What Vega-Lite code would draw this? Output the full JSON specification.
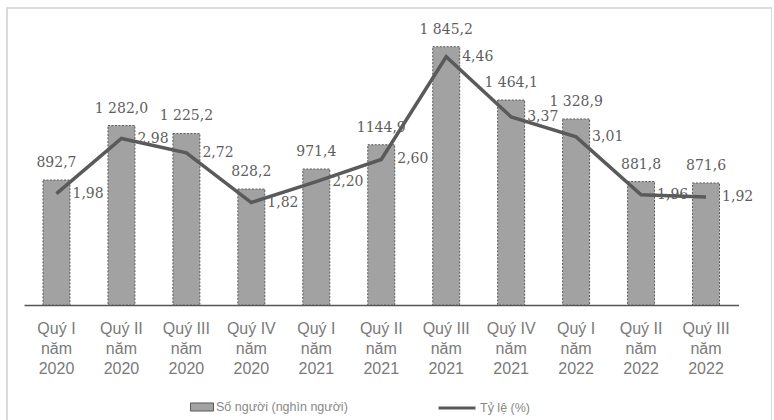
{
  "$schema": "https://vega.github.io/schema/vega-lite/v6.json",
  "width": 765,
  "height": 415,
  "autosize": {"type": "none"},
  "padding": {"left": 7, "top": 8, "right": 0, "bottom": 0},
  "background": "white",
  "config": {
    "view": {"stroke": "#cfcfcf", "strokeWidth": 1.5},
    "text": {"font": "DejaVu Serif", "fontSize": 14, "fill": "#5e5e5e"}
  },
  "data": {
    "values": [
      {"q": "Quý I|năm|2020", "n": 892.7, "nl": "892,7", "r": 1.98, "rl": "1,98"},
      {"q": "Quý II|năm|2020", "n": 1282.0, "nl": "1 282,0", "r": 2.98, "rl": "2,98"},
      {"q": "Quý III|năm|2020", "n": 1225.2, "nl": "1 225,2", "r": 2.72, "rl": "2,72"},
      {"q": "Quý IV|năm|2020", "n": 828.2, "nl": "828,2", "r": 1.82, "rl": "1,82"},
      {"q": "Quý I|năm|2021", "n": 971.4, "nl": "971,4", "r": 2.20, "rl": "2,20"},
      {"q": "Quý II|năm|2021", "n": 1144.9, "nl": "1144,9", "r": 2.60, "rl": "2,60"},
      {"q": "Quý III|năm|2021", "n": 1845.2, "nl": "1 845,2", "r": 4.46, "rl": "4,46"},
      {"q": "Quý IV|năm|2021", "n": 1464.1, "nl": "1 464,1", "r": 3.37, "rl": "3,37"},
      {"q": "Quý I|năm|2022", "n": 1328.9, "nl": "1 328,9", "r": 3.01, "rl": "3,01"},
      {"q": "Quý II|năm|2022", "n": 881.8, "nl": "881,8", "r": 1.96, "rl": "1,96"},
      {"q": "Quý III|năm|2022", "n": 871.6, "nl": "871,6", "r": 1.92, "rl": "1,92"}
    ]
  },
  "encoding": {
    "x": {
      "field": "q",
      "type": "nominal",
      "sort": null,
      "scale": {"range": [17, 731.5], "paddingInner": 0.585, "paddingOuter": 0.2925},
      "axis": {
        "title": null,
        "orient": "bottom",
        "offset": -118,
        "labelAngle": 0,
        "ticks": false,
        "tickSize": 0,
        "labelPadding": 15,
        "labelBaseline": "top",
        "labelFont": "Liberation Sans",
        "labelFontSize": 16,
        "labelColor": "#7a7a7a",
        "labelLineHeight": 20,
        "labelExpr": "split(datum.value, '|')",
        "domainColor": "#555555",
        "domainWidth": 1.3
      }
    }
  },
  "layer": [
    {
      "layer": [
        {
          "mark": {"type": "bar", "stroke": "#5a5a5a", "strokeWidth": 1, "strokeDash": [2, 1.5]},
          "encoding": {
            "y": {"field": "n", "type": "quantitative", "scale": {"domain": [0, 2000], "range": [297, 17]}, "axis": null},
            "fill": {
              "datum": "Số người (nghìn người)",
              "type": "nominal",
              "scale": {"range": ["#a2a2a2"]},
              "legend": {
                "title": null,
                "orient": "none",
                "legendX": 183,
                "legendY": 387,
                "labelFont": "Liberation Sans",
                "labelFontSize": 12.5,
                "labelColor": "#888888",
                "symbolType": "M-1,-0.35L1,-0.35L1,0.35L-1,0.35Z",
                "symbolSize": 529,
                "symbolStrokeColor": "#5a5a5a",
                "symbolStrokeWidth": 1,
                "labelOffset": 2
              }
            }
          }
        },
        {
          "mark": {"type": "text", "baseline": "alphabetic", "dy": -13},
          "encoding": {
            "y": {"field": "n", "type": "quantitative", "scale": {"domain": [0, 2000], "range": [297, 17]}, "axis": null},
            "text": {"field": "nl"}
          }
        }
      ]
    },
    {
      "layer": [
        {
          "mark": {"type": "line", "strokeWidth": 3.5, "strokeJoin": "miter"},
          "encoding": {
            "y": {"field": "r", "type": "quantitative", "scale": {"domain": [0, 5], "range": [295, 19]}, "axis": null},
            "stroke": {
              "datum": "Tỷ lệ (%)",
              "type": "nominal",
              "scale": {"range": ["#5a5a5a"]},
              "legend": {
                "title": null,
                "orient": "none",
                "legendX": 430,
                "legendY": 380,
                "labelFont": "Liberation Sans",
                "labelFontSize": 12.5,
                "labelColor": "#888888",
                "symbolType": "stroke",
                "symbolSize": 1369,
                "symbolStrokeWidth": 3,
                "labelOffset": 3
              }
            }
          }
        },
        {
          "mark": {"type": "text", "align": "left", "baseline": "middle", "dx": 16},
          "encoding": {
            "y": {"field": "r", "type": "quantitative", "scale": {"domain": [0, 5], "range": [295, 19]}, "axis": null},
            "text": {"field": "rl"}
          }
        }
      ]
    }
  ],
  "resolve": {"scale": {"y": "independent", "fill": "independent", "stroke": "independent"}}
}
